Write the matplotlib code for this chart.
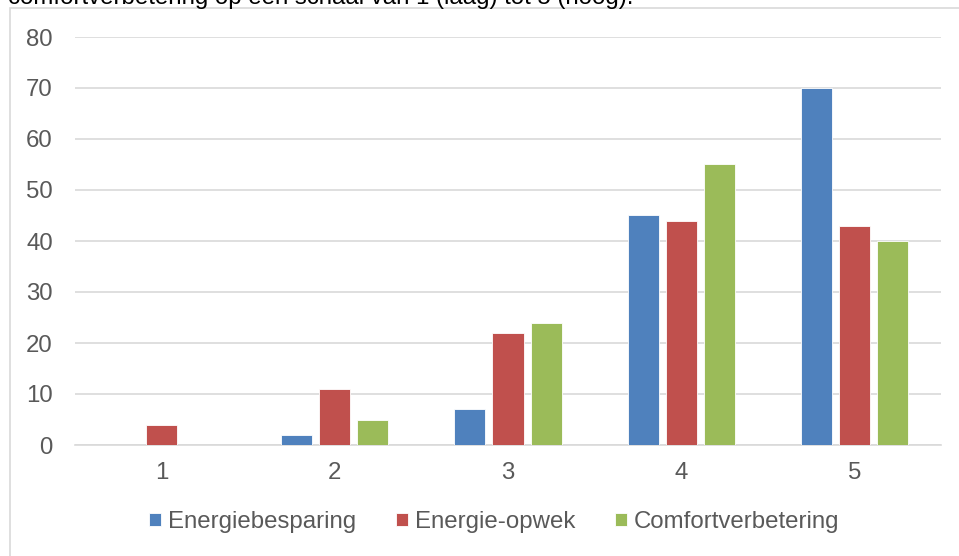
import numpy as np
import matplotlib.pyplot as plt
from matplotlib.patches import Rectangle

plt.rcParams['font.family'] = ['Liberation Sans', 'DejaVu Sans']

categories = ['1', '2', '3', '4', '5']
series_names = ['Energiebesparing', 'Energie-opwek', 'Comfortverbetering']
energiebesparing = [0, 2, 7, 45, 70]
energie_opwek = [4, 11, 22, 44, 43]
comfortverbetering = [0, 5, 24, 55, 40]
colors = ['#4F81BD', '#C0504D', '#9BBB59']

fs = 17.3

fig = plt.figure(figsize=(9.59, 5.56), dpi=100)

# chart frame, runs off the right and bottom edge
fig.patches.append(Rectangle((10/959, -0.1), 1.2, (556-7.5)/556 + 0.1,
                             transform=fig.transFigure, fill=False,
                             edgecolor='#D9D9D9', lw=1.2))
fig.text(8/959, 1 - 4/556, 'comfortverbetering op een schaal van 1 (laag) tot 5 (hoog).',
         fontsize=fs, color='black', va='baseline', ha='left')

ax = fig.add_axes([75/959, (556-445)/556, (941-75)/959, (445-37)/556])

x = np.arange(len(categories))
w = 0.18
step = 0.22
for i, (vals, name) in enumerate(zip([energiebesparing, energie_opwek, comfortverbetering], series_names)):
    ax.bar(x + (i-1)*step, vals, w, color=colors[i], label=name, zorder=3,
           edgecolor='white', linewidth=0.6)

ax.set_xlim(-0.5, 4.5)
ax.set_ylim(0, 80)
ax.set_yticks(range(0, 81, 10))
ax.set_xticks(x)
ax.set_xticklabels(categories)
ax.grid(axis='y', color='#D9D9D9', lw=1.2, zorder=0)
for s in ['top', 'right', 'left']:
    ax.spines[s].set_visible(False)
ax.spines['bottom'].set_color('#D9D9D9')
ax.spines['bottom'].set_linewidth(1.2)
ax.tick_params(length=0, labelsize=fs, labelcolor='#595959')
ax.tick_params(axis='x', pad=12)
ax.tick_params(axis='y', pad=16)

fig.legend(loc='center', bbox_to_anchor=(494/959, 1 - 522/556), ncol=3, frameon=False,
           fontsize=fs, labelcolor='#595959', handlelength=0.5, handleheight=0.5,
           handletextpad=0.3, columnspacing=1.65)

fig.savefig('out.png', dpi=100)
